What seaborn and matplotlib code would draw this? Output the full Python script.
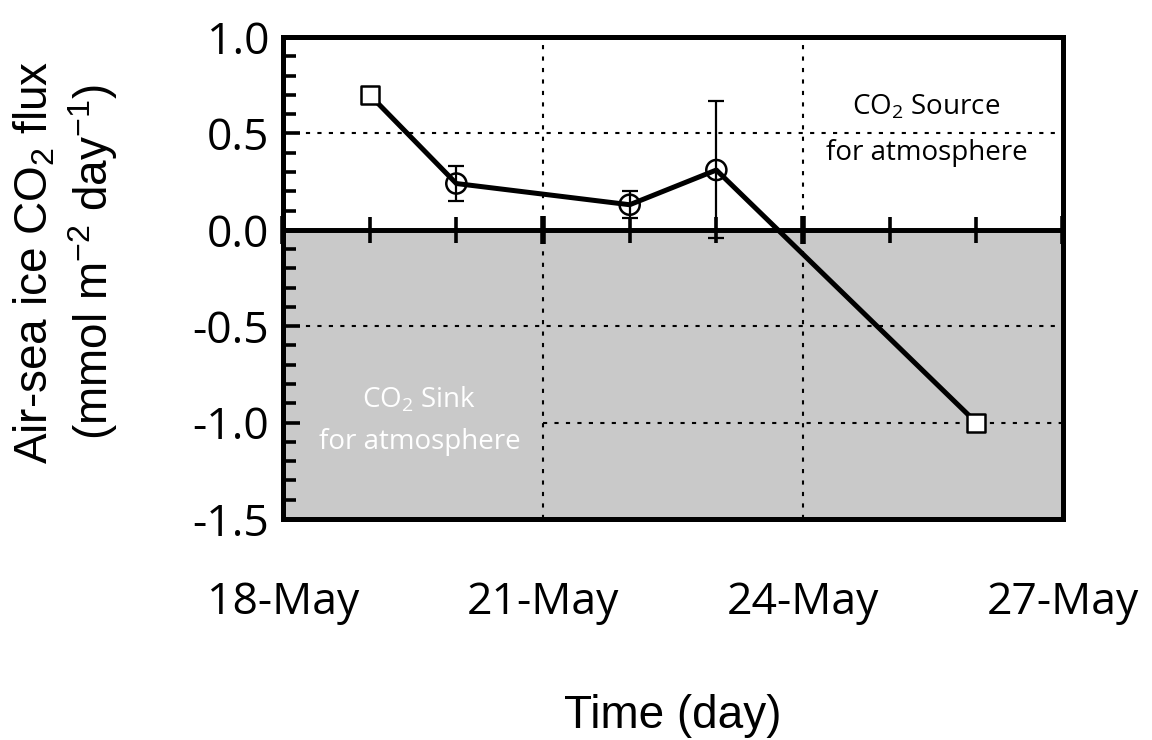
import matplotlib
matplotlib.use("Agg")
import matplotlib.pyplot as plt
import seaborn as sns
import pandas as pd
import numpy as np

# ---- data ----
days = [19, 20, 22, 23, 26]             # day of May
flux = [0.70, 0.24, 0.13, 0.31, -1.00]
err_lo = [None, 0.15, 0.06, -0.04, None]
err_hi = [None, 0.33, 0.20, 0.67, None]
marker_kind = ["square", "circle", "circle", "circle", "square"]

xtick_pos = [18, 21, 24, 27]
xtick_labels = ["18-May", "21-May", "24-May", "27-May"]
ytick_pos = [1.0, 0.5, 0.0, -0.5, -1.0, -1.5]
ytick_labels = ["1.0", "0.5", "0.0", "-0.5", "-1.0", "-1.5"]

df = pd.DataFrame({"day": days, "flux": flux, "lo": err_lo, "hi": err_hi, "kind": marker_kind})

sns.set_theme(style="white")
plt.rcParams['font.family'] = ['Liberation Sans', 'DejaVu Sans']
for k in ["text.color", "axes.labelcolor", "xtick.color", "ytick.color", "axes.edgecolor"]:
    plt.rcParams[k] = "black"

fig = plt.figure(figsize=(11.52, 7.40), dpi=100)
ax = fig.add_axes([283/1152, 1-519/740, (1063-283)/1152, (519-37)/740])

ax.set_xlim(18, 27)
ax.set_ylim(-1.5, 1.0)

# gray sink region
ax.axhspan(-1.5, 0, color="#c9c9c9", zorder=0, lw=0)

# dotted grid lines
dot = dict(color="black", lw=1.5, ls=(0, (2, 3.5)), zorder=1)
for xv in [21, 24]:
    ax.axvline(xv, **dot)
ax.axhline(0.5, **dot)
ax.axhline(-0.5, **dot)
ax.axhline(-1.0, xmin=1/3, **dot)

# zero line
ax.axhline(0, color="black", lw=3.4, zorder=2)

# main line
sns.lineplot(data=df, x="day", y="flux", ax=ax, color="black", lw=3.6,
             zorder=3, legend=False)

# error bars
eb = df.dropna(subset=["lo"])
ax.errorbar(eb["day"], eb["flux"],
            yerr=[eb["flux"] - eb["lo"], eb["hi"] - eb["flux"]],
            fmt="none", ecolor="black", elinewidth=1.6, capsize=6, capthick=1.6, zorder=4)

# markers
sq = df[df["kind"] == "square"]
ci = df[df["kind"] == "circle"]
ax.scatter(sq["day"], sq["flux"], marker="s", s=165, facecolor="white",
           edgecolor="black", linewidths=1.8, zorder=5)
ax.scatter(ci["day"], ci["flux"], marker="o", s=210, facecolor="none",
           edgecolor="black", linewidths=1.8, zorder=5)

# axes ticks
tick_font = ["Open Sans", "DejaVu Sans"]
ax.set_xticks(xtick_pos)
ax.set_xticklabels(xtick_labels, fontsize=32, family=tick_font)
ax.tick_params(axis="x", length=0, pad=44)
ax.set_yticks(ytick_pos)
ax.set_yticklabels(ytick_labels, fontsize=32, family=tick_font)
ax.set_yticks(np.arange(-1.5, 1.0001, 0.1), minor=True)
ax.tick_params(axis="y", which="major", direction="in", length=12, width=2.6, left=True, pad=10)
ax.tick_params(axis="y", which="minor", direction="in", length=9, width=2.6, left=True)

# day ticks on zero line
sec = ax.secondary_xaxis(0.6)
sec.set_xticks(xtick_pos)
sec.set_xticks(np.arange(18, 27.5, 1), minor=True)
sec.tick_params(axis="x", which="major", direction="inout", length=20, width=4.0,
                labelbottom=False, labeltop=False, bottom=True, top=False)
sec.tick_params(axis="x", which="minor", direction="inout", length=19, width=2.6,
                labelbottom=False, labeltop=False, bottom=True, top=False)
for s in sec.spines.values():
    s.set_linewidth(3.4)

for s in ax.spines.values():
    s.set_linewidth(3.6)
    s.set_color("black")

ax.set_xlabel("Time (day)", fontsize=33, labelpad=50)
ax.set_ylabel("Air-sea ice CO$_{\\mathregular{2}}$ flux\n(mmol m$^{\\mathregular{-2}}$ day$^{\\mathregular{-1}}$)",
              fontsize=33, linespacing=1.2)
ax.yaxis.set_label_coords(-0.209, 0.533)

ax.text(0.825, 0.807, "CO$_{\\mathregular{2}}$ Source\nfor atmosphere", fontsize=20,
        ha="center", va="center", family=tick_font, color="black",
        transform=ax.transAxes, linespacing=1.85)
ax.text(0.175, 0.205, "CO$_{\\mathregular{2}}$ Sink\nfor atmosphere", fontsize=20,
        ha="center", va="center", family=tick_font, color="white",
        transform=ax.transAxes, linespacing=1.7)

fig.savefig("out.png", dpi=100)
